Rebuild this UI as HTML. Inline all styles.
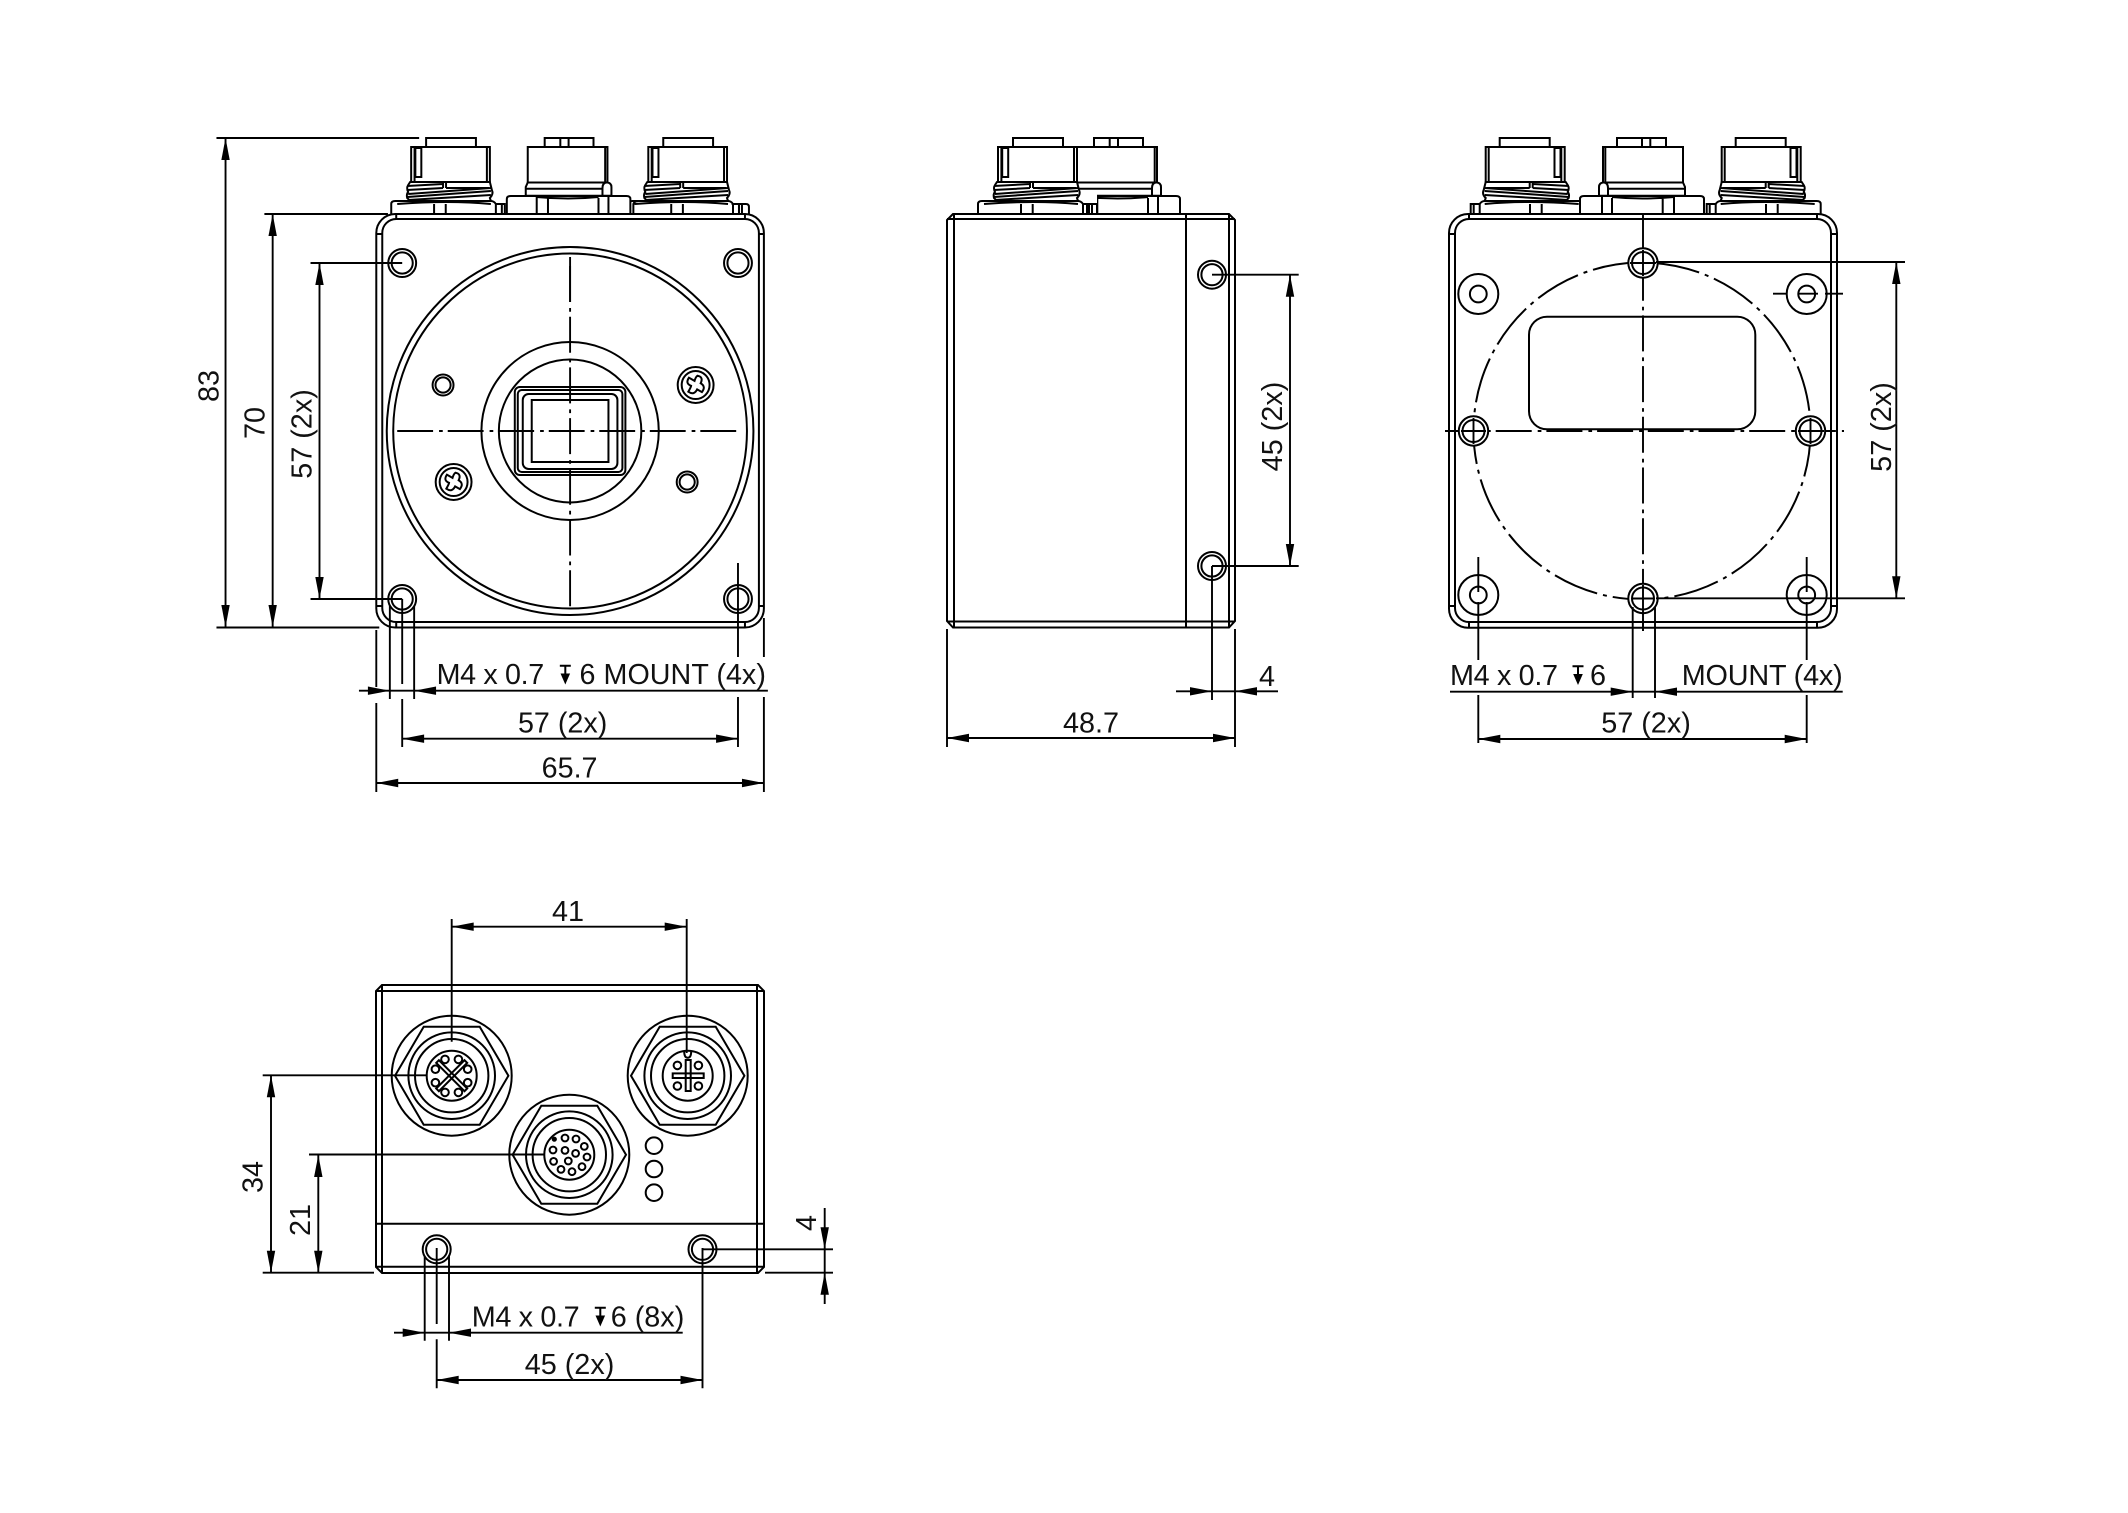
<!DOCTYPE html>
<html><head><meta charset="utf-8"><title>Camera dimensions</title>
<style>
html,body{margin:0;padding:0;background:#fff}
svg{display:block}
text{font-family:"Liberation Sans",Arial,sans-serif;font-size:28.8px;fill:#111;stroke:none}
.l{fill:none;stroke:#000;stroke-width:2}
.w{fill:#fff;stroke:#000;stroke-width:2}
.d{fill:none;stroke:#000;stroke-width:1.9}
.cl{fill:none;stroke:#000;stroke-width:1.9;stroke-dasharray:36 6 3.7 5}
.cc{fill:none;stroke:#000;stroke-width:2;stroke-dasharray:46 6 4 6}
</style></head><body>
<svg xmlns="http://www.w3.org/2000/svg" width="2128" height="1513" viewBox="0 0 2128 1513">
<rect width="2128" height="1513" fill="#fff"/>
<defs>
<path id="a" d="M0 0L-22 -4.2L-22 4.2Z" fill="#000"/>
<g id="sym"><path d="M-5.5 0.8H5.5M0 0.8V12" fill="none" stroke="#000" stroke-width="2"/><path d="M-4.8 8.5L4.8 8.5L0 19.5Z" fill="#000"/></g>
<g id="hole"><circle r="14" class="w"/><circle r="10.6" class="l"/></g>
<g id="hole2"><circle r="14.7" class="w"/><circle r="11" class="l"/></g>
<g id="big"><circle r="20" class="w"/><circle r="8.4" class="l"/></g>
<g id="screw"><circle r="18" class="w"/><circle r="14" class="l"/>
<path class="l" transform="rotate(30)" d="M-3 -9Q3 -11 3.5 -4Q10 -4 9 3Q4 3 3.5 3Q4 10 -3 9.5Q-3 4 -3.5 3Q-10 4 -9.5 -3Q-4 -3 -3 -3Q-4 -7 -3 -9Z"/></g>
<g id="sh"><circle r="10.5" class="w"/><circle r="7.6" class="l"/></g>
<g id="cm">
<path class="w" d="M392 214V204Q392 201 396 201H492Q495 201 497 204H506V214"/>
<path class="l" d="M398 204Q450 200 492 204M435 204V214M446.7 204V214M497 204V214M503 204V214"/>
<path class="w" d="M411 182H491L493 190Q495 194 491 198L492 201H411L408 198Q407 194 409 192Q407 188 409 185Z"/>
<path class="l" stroke-width="2.4" d="M408 186L444 184M408 190L444 188M408 197L492 191M409 200L492 195M409 194L492 188M447 182H490M447 188H490M444 182V188M447 182V188"/>
<rect class="w" x="412" y="147" width="79" height="35" stroke-width="2.4"/>
<path class="l" d="M415.4 147V182M488 147V182"/>
<rect class="l" x="416.2" y="148" width="6" height="29" stroke-width="2.2"/>
<rect class="w" x="427" y="138" width="50" height="9"/>
</g>
<g id="cx">
<path class="w" d="M508 213.5V199Q508 196 512 196H628Q632 196 632 199V213.5"/>
<path class="l" d="M538 197V213.5M549.3 198V213.5M600 198V213.5M610 197V213.5M538 197Q570 200 600 197"/>
<path class="w" d="M529 182.5L527 187V195.7H613V187Q613 183 609 182.5Z"/>
<path class="l" d="M527 188.7H604M604 195.7V188Q604 183 608 182.5"/>
<rect class="w" x="529" y="147" width="80" height="35.5" stroke-width="2.4"/>
<path class="l" d="M606.7 147V182.5"/>
<rect class="w" x="546" y="138" width="49" height="9"/>
<path class="l" d="M561.7 138V147M570 138V147"/>
</g>
<g id="hx">
<circle r="60" class="l" stroke-width="2"/>
<path class="l" stroke-width="2" d="M-56.7 0L-28 -49H28L56.7 0L28 49H-28Z"/>
<circle r="43.3" class="l" stroke-width="2"/>
<circle r="36.7" class="l" stroke-width="2"/>
<circle r="25" class="l" stroke-width="2"/>
</g>
</defs>

<!-- ============ FRONT VIEW ============ -->
<g transform="translate(180 0) scale(0.9964 1) translate(-180 0)">
<use href="#cm"/>
<use href="#cm" transform="translate(238 0)"/>
<use href="#cx"/>
<path class="l" d="M635 214V204Q636 201 640 201H730M733.6 204H748Q751 204 751 207V214M741 204V214"/>
<rect class="w" x="377" y="214" width="389" height="413.5" rx="19" stroke-width="2"/>
<rect class="l" x="383" y="219" width="378" height="403" rx="14" stroke-width="2"/>
<path class="l" d="M377 234H383M761 234H766M377 606H383M761 606H766M397 214V219M747 214V219M397 622V627.5M747 622V627.5"/>
<circle cx="571.5" cy="431" r="184" class="l" stroke-width="1.4"/>
<circle cx="571.5" cy="431" r="177.5" class="l" stroke-width="2"/>
<circle cx="571.5" cy="431" r="89" class="l" stroke-width="2"/>
<circle cx="571.5" cy="431" r="71.5" class="l" stroke-width="2"/>
<rect class="l" x="516" y="387" width="111" height="88" rx="5"/>
<rect class="l" x="519" y="390" width="105" height="82" rx="4" stroke-width="1.5"/>
<rect class="l" x="524" y="394" width="95" height="75" rx="6"/>
<rect class="l" x="533" y="400" width="77" height="62" stroke-width="2"/>
<path class="d" d="M571.5 257V302"/>
<path class="cl" d="M571.5 266V607"/>
<path class="cl" d="M398 431H740"/>
<use href="#sh" transform="translate(444 385)"/>
<use href="#sh" transform="translate(689 482)"/>
<use href="#screw" transform="translate(697.5 385)"/>
<use href="#screw" transform="translate(454.6 482)"/>
<use href="#hole" transform="translate(403 263)"/>
<use href="#hole" transform="translate(740 263)"/>
<use href="#hole" transform="translate(403 599)"/>
<use href="#hole" transform="translate(740 599)"/>

<!-- front dims -->
<path class="d" d="M216.6 138H420M264.7 214H388.7M311 263H403M311 599H403M216.6 627.5H380"/>
<path class="d" d="M225.7 138V627M273 214V627M320 263V599"/>
<use href="#a" transform="translate(225.7 138) rotate(-90)"/><use href="#a" transform="translate(225.7 627) rotate(90)"/>
<use href="#a" transform="translate(273 214) rotate(-90)"/><use href="#a" transform="translate(273 627) rotate(90)"/>
<use href="#a" transform="translate(320 263) rotate(-90)"/><use href="#a" transform="translate(320 599) rotate(90)"/>
<text transform="translate(218.5 386) rotate(-90)" text-anchor="middle">83</text>
<text transform="translate(264.7 423) rotate(-90)" text-anchor="middle">70</text>
<text transform="translate(312 434) rotate(-90)" text-anchor="middle">57 (2x)</text>
<path class="d" d="M359.6 690.7H770"/>
<use href="#a" transform="translate(390.6 690.7)"/>
<use href="#a" transform="translate(415 690.7) rotate(180)"/>
<path class="d" d="M390.6 606V699M415 606V699M403 599V684M403 699V747M377 630V687M377 703V792M766 618V657M766 697V792M740 563V657M740 697V747"/>
<text x="437.5" y="684" textLength="108">M4 x 0.7</text>
<use href="#sym" transform="translate(566.7 665)"/>
<text x="581" y="684" textLength="187">6 MOUNT (4x)</text>
<path class="d" d="M403 738.7H740"/>
<use href="#a" transform="translate(403 738.7) rotate(180)"/><use href="#a" transform="translate(740 738.7)"/>
<text x="564" y="732.7" text-anchor="middle">57 (2x)</text>
<path class="d" d="M377 783H766"/>
<use href="#a" transform="translate(377 783) rotate(180)"/><use href="#a" transform="translate(766 783)"/>
<text x="571" y="777.7" text-anchor="middle">65.7</text>
</g>

<!-- ============ SIDE VIEW ============ -->
<use href="#cx" transform="translate(548 0)"/>
<rect x="1040" y="190" width="57" height="24" fill="#fff"/>
<use href="#cm" transform="translate(586 0)"/>
<path class="l" d="M1092 204H1097V214M1087 204V214"/>
<path class="l" stroke-width="2" d="M953 214L947 220V621L953 627.5H1229L1235 621V220L1229 214Z"/>
<path class="l" stroke-width="2" d="M947 219H1235M947 621.5H1235M954 214V627.5M1229 214V627.5M1186 214V627.5"/>
<use href="#hole" transform="translate(1212 274.7)"/>
<use href="#hole" transform="translate(1212 566)"/>
<path class="d" d="M1212 274.7H1298.7M1212 566H1298.7M1290 274.7V566M1212 566V700M947 629V747M1235 629V747M1176 691.3H1278M947 738H1235"/>
<use href="#a" transform="translate(1290 274.7) rotate(-90)"/><use href="#a" transform="translate(1290 566) rotate(90)"/>
<use href="#a" transform="translate(1212 691.3)"/><use href="#a" transform="translate(1235 691.3) rotate(180)"/>
<use href="#a" transform="translate(947 738) rotate(180)"/><use href="#a" transform="translate(1235 738)"/>
<text transform="translate(1282 426.5) rotate(-90)" text-anchor="middle">45 (2x)</text>
<text x="1259" y="686">4</text>
<text x="1091" y="732.7" text-anchor="middle">48.7</text>

<!-- ============ REAR VIEW ============ -->
<use href="#cm" transform="matrix(-1 0 0 1 1976.7 0)"/>
<use href="#cm" transform="matrix(-1 0 0 1 2212.7 0)"/>
<use href="#cx" transform="matrix(-1 0 0 1 2212 0)"/>
<rect class="w" x="1449" y="214" width="388" height="413.7" rx="19" stroke-width="2"/>
<rect class="l" x="1455" y="219" width="376" height="403" rx="14" stroke-width="2"/>
<path class="l" d="M1449 234H1455M1831 234H1837M1449 606H1455M1831 606H1837M1469 214V219M1817 214V219M1469 622V627.7M1817 622V627.7"/>
<rect class="l" x="1529" y="316.7" width="226.3" height="112.6" rx="18" stroke-width="1.9"/>
<circle class="cc" cx="1642" cy="431" r="168.5"/>
<path class="cl" d="M1643 214V631"/>
<path class="cl" d="M1445 431H1844"/>
<use href="#big" transform="translate(1478.3 294)"/>
<use href="#big" transform="translate(1806.7 294)"/>
<use href="#big" transform="translate(1478.3 595)"/>
<use href="#big" transform="translate(1806.7 595)"/>
<use href="#hole2" transform="translate(1643 263)"/>
<use href="#hole2" transform="translate(1473.5 431)"/>
<use href="#hole2" transform="translate(1810.5 431)"/>
<use href="#hole2" transform="translate(1643 598.5)"/>
<path class="d" d="M1643 250V276M1630 263H1656M1473.5 418V444M1461 431H1486M1810.5 418V444M1798 431H1824M1643 585V612M1632 598.5H1654"/>
<path class="d" d="M1773 293.7H1786M1798 293.7H1818M1825 293.7H1843"/>
<path class="d" d="M1478.3 557V592M1806.7 557V592M1478.3 602V660M1806.7 602V660"/>
<path class="d" d="M1656 262H1905M1656 598.3H1905M1896.3 262V598.3"/>
<use href="#a" transform="translate(1896.3 262) rotate(-90)"/><use href="#a" transform="translate(1896.3 598.3) rotate(90)"/>
<text transform="translate(1891 427) rotate(-90)" text-anchor="middle">57 (2x)</text>
<path class="d" d="M1450 691.7H1842.7"/>
<use href="#a" transform="translate(1632.7 691.7)"/><use href="#a" transform="translate(1655 691.7) rotate(180)"/>
<path class="d" d="M1632.7 607V698M1655 607V698M1643 612V631M1478.3 695V743M1806.7 695V743M1478.3 739H1806.7"/>
<text x="1450" y="685" textLength="108">M4 x 0.7</text>
<use href="#sym" transform="translate(1578 665.5)"/>
<text x="1590" y="685">6</text>
<text x="1681.7" y="685" textLength="161">MOUNT (4x)</text>
<use href="#a" transform="translate(1478.3 739) rotate(180)"/><use href="#a" transform="translate(1806.7 739)"/>
<text x="1646" y="732.7" text-anchor="middle">57 (2x)</text>

<!-- ============ CONNECTOR END VIEW ============ -->
<path class="l" stroke-width="2" d="M382 985L376 991V1267L382 1273H758L764 1267V991L758 985Z"/>
<path class="l" stroke-width="2" d="M376 991H764M376 1266.7H764M382 985V1273M757 985V1273"/>
<path class="l" stroke-width="2.2" d="M376 1223.7H764"/>
<use href="#hx" transform="translate(451.7 1075.7)"/>
<use href="#hx" transform="translate(687.7 1075.7)"/>
<use href="#hx" transform="translate(569.3 1154.7)"/>
<!-- conn 1 -->
<g transform="translate(451.7 1075.7)">
<g class="l" stroke-width="1.7"><circle cx="-6.7" cy="-16.3" r="3.8"/><circle cx="6.7" cy="-16.3" r="3.8"/><circle cx="16" cy="-6.5" r="3.8"/><circle cx="16" cy="7" r="3.8"/><circle cx="6.7" cy="16.7" r="3.8"/><circle cx="-6.7" cy="16.7" r="3.8"/><circle cx="-16.3" cy="7" r="3.8"/><circle cx="-16.3" cy="-6.5" r="3.8"/></g>
<rect class="l" x="-20" y="-1.9" width="40" height="3.8" transform="rotate(45)"/>
<rect class="l" x="-20" y="-1.9" width="40" height="3.8" transform="rotate(-45)"/>
</g>
<!-- conn 3 -->
<g transform="translate(687.7 1075.7)">
<g class="l" stroke-width="1.7"><circle cx="-10.3" cy="-10.3" r="3.8"/><circle cx="10.7" cy="-10.3" r="3.8"/><circle cx="-10.3" cy="10.3" r="3.8"/><circle cx="10.7" cy="10.3" r="3.8"/></g>
<rect class="l" x="-2" y="-15.7" width="5" height="31"/>
<rect class="l" x="-15" y="-2.3" width="31" height="4.6"/>
<path class="l" d="M-3.5 -24.5Q-3.5 -18 0 -18Q3.5 -18 3.5 -24.5"/>
</g>
<!-- conn 2 -->
<g transform="translate(569.3 1154.7)">
<circle cx="-15" cy="-15.5" r="2.6" fill="#000"/>
<g class="l" stroke-width="1.7"><circle cx="-4.3" cy="-16.7" r="3.4"/><circle cx="6.7" cy="-15.7" r="3.4"/><circle cx="15" cy="-8.3" r="3.4"/><circle cx="17.7" cy="2.3" r="3.4"/><circle cx="12.7" cy="12" r="3.4"/><circle cx="2.7" cy="17" r="3.4"/><circle cx="-8.3" cy="14.7" r="3.4"/><circle cx="-15.7" cy="6.7" r="3.4"/><circle cx="-16.3" cy="-4.7" r="3.4"/><circle cx="-4.3" cy="-4.3" r="3.4"/><circle cx="6.3" cy="-1.3" r="3.4"/><circle cx="-1" cy="6.3" r="3.4"/></g>
</g>
<circle class="l" cx="654" cy="1145.7" r="8.3"/><circle class="l" cx="654" cy="1169" r="8.3"/><circle class="l" cx="654" cy="1192.7" r="8.3"/>
<use href="#hole" transform="translate(436.7 1249.3)"/>
<use href="#hole" transform="translate(702.5 1249.3)"/>

<!-- end view dims -->
<path class="d" d="M451.7 919V1041.7M686.7 919V1053M451.7 926.7H686.7"/>
<use href="#a" transform="translate(451.7 926.7) rotate(180)"/><use href="#a" transform="translate(686.7 926.7)"/>
<text x="568" y="921" text-anchor="middle">41</text>
<path class="d" d="M262.7 1075.3H426.7M309 1154.5H545M262.7 1272.7H374M271 1075.3V1272.7M318.3 1155V1272.7"/>
<use href="#a" transform="translate(271 1075.3) rotate(-90)"/><use href="#a" transform="translate(271 1272.7) rotate(90)"/>
<use href="#a" transform="translate(318.3 1155) rotate(-90)"/><use href="#a" transform="translate(318.3 1272.7) rotate(90)"/>
<text transform="translate(262.7 1177) rotate(-90)" text-anchor="middle">34</text>
<text transform="translate(310 1220) rotate(-90)" text-anchor="middle">21</text>
<path class="d" d="M702.5 1249.3H833M765 1272.7H833M824.7 1208V1304"/>
<use href="#a" transform="translate(824.7 1249.3) rotate(90)"/><use href="#a" transform="translate(824.7 1272.7) rotate(-90)"/>
<text transform="translate(816 1223) rotate(-90)" text-anchor="middle">4</text>
<path class="d" d="M394 1332.7H682.7"/>
<use href="#a" transform="translate(424.7 1332.7)"/><use href="#a" transform="translate(449 1332.7) rotate(180)"/>
<path class="d" d="M424.7 1256V1340.7M449 1256V1340.7M436.7 1248V1324M436.7 1339.3V1388.3M702.5 1248V1388.3M436.7 1380H702.5"/>
<text x="471.7" y="1326.7" textLength="108">M4 x 0.7</text>
<use href="#sym" transform="translate(600.3 1307)"/>
<text x="610.7" y="1326.7">6 (8x)</text>
<use href="#a" transform="translate(436.7 1380) rotate(180)"/><use href="#a" transform="translate(702.5 1380)"/>
<text x="569.5" y="1374" text-anchor="middle">45 (2x)</text>
</svg>
</body></html>
